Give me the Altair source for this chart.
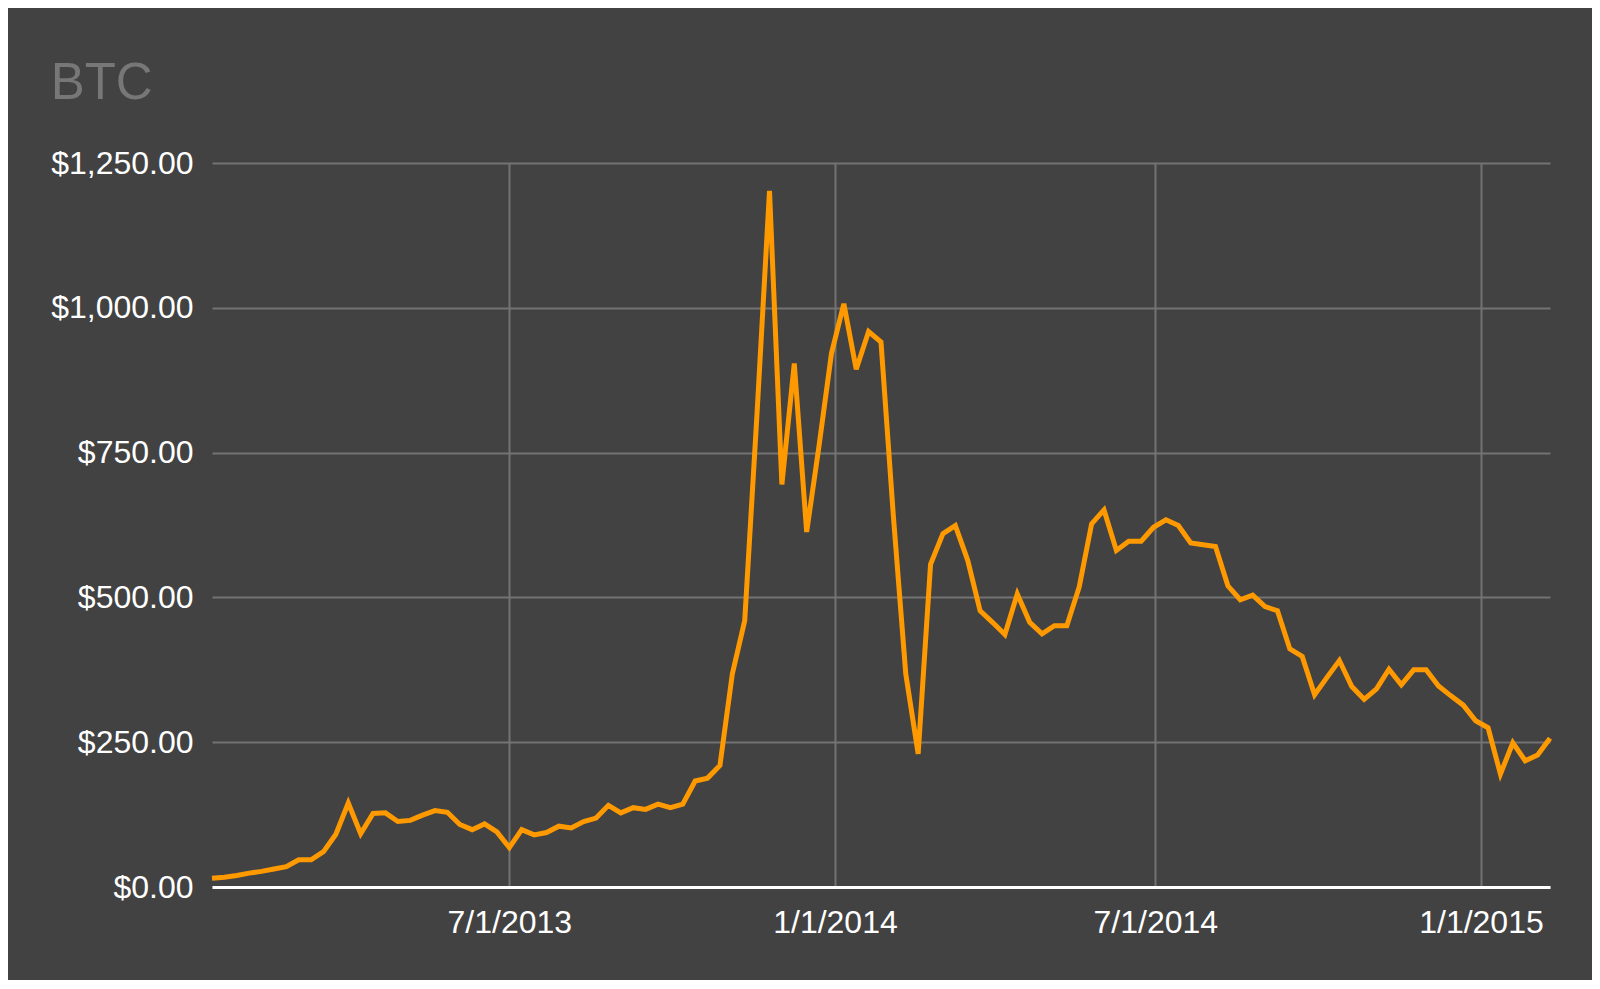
import altair as alt
import pandas as pd

# Weekly BTC closing prices (USD)
start_date = "2013-01-14"
prices = [
    15, 17, 20, 24, 27, 31, 35, 47, 47, 61,
    91, 145, 92, 127, 128, 113, 115, 124, 132, 129,
    108, 99, 109, 95, 68, 99, 90, 94, 105, 102,
    113, 119, 141, 128, 137, 134, 143, 137, 143, 183,
    188, 210, 368, 460, 820, 1202, 695, 904, 613, 762,
    921, 1007, 894, 959, 941, 640, 368, 230, 557, 610,
    624, 564, 477, 457, 436, 506, 457, 437, 451, 451,
    518, 627, 651, 581, 597, 597, 621, 634, 624, 594,
    591, 588, 520, 496, 504, 484, 477, 411, 398, 332,
    362, 391, 346, 324, 342, 376, 349, 375, 375, 347,
    330, 314, 287, 275, 195, 249, 218, 228, 257,
]
dates = pd.date_range(start_date, periods=len(prices), freq="7D")

y_ticks = [0, 250, 500, 750, 1000, 1250]
x_ticks = [(2013, 7, 1), (2014, 1, 1), (2014, 7, 1), (2015, 1, 1)]

df = pd.DataFrame({"date": dates, "price": prices})

FONT = "Liberation Sans"

chart = (
    alt.Chart(df)
    .mark_line(color="#FF9900", strokeWidth=5, strokeJoin="miter")
    .encode(
        x=alt.X(
            "date:T",
            scale=alt.Scale(
                domain=[
                    alt.DateTime(year=2013, month=1, date=14),
                    alt.DateTime(year=2015, month=2, date=9),
                ],
                nice=False,
            ),
            axis=alt.Axis(
                title=None,
                values=[alt.DateTime(year=y, month=m, date=d) for (y, m, d) in x_ticks],
                format="%-m/%-d/%Y",
                labelFont=FONT,
                labelFontSize=32,
                labelColor="#ffffff",
                labelPadding=20,
                labelAlign="center",
                labelFlush=False,
                labelOverlap=False,
                tickSize=0,
                domainColor="#ffffff",
                domainWidth=3,
                grid=True,
                gridColor="#737373",
                gridWidth=2,
            ),
        ),
        y=alt.Y(
            "price:Q",
            scale=alt.Scale(domain=[0, 1250], nice=False),
            axis=alt.Axis(
                title=None,
                values=y_ticks,
                format="$,.2f",
                labelFont=FONT,
                labelFontSize=32,
                labelColor="#ffffff",
                labelPadding=19,
                tickSize=0,
                domain=False,
                grid=True,
                gridColor="#737373",
                gridWidth=2,
            ),
        ),
    )
    .properties(
        width=1338,
        height=724,
        title=alt.TitleParams(
            text="BTC",
            font=FONT,
            fontSize=51,
            fontWeight="normal",
            color="#777777",
            anchor="start",
            frame="bounds",
            baseline="alphabetic",
            offset=48,
            dy=51,
        ),
        autosize=alt.AutoSizeParams(type="none"),
        padding={"left": 204, "top": 155, "right": 42, "bottom": 93},
        background="#424242",
    )
    .configure_view(stroke=None)
)

chart.save("out.html", embed_options={"renderer": "svg", "actions": False})
